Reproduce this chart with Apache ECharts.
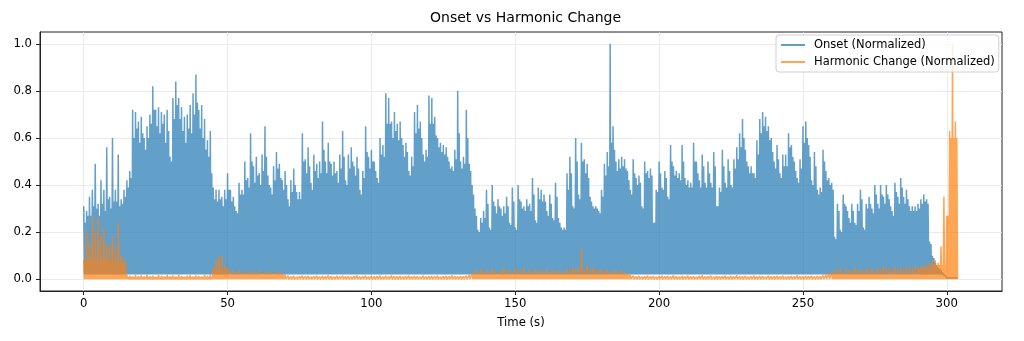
<!DOCTYPE html>
<html>
<head>
<meta charset="utf-8">
<script src="https://cdn.jsdelivr.net/npm/echarts@6.0.0/dist/echarts.min.js"></script>
<style>
html,body{margin:0;padding:0;background:#fff;}
#chart{width:1024px;height:341px;}
</style>
</head>
<body>
<div id="chart"></div>
<script>
// ---- data ----
// Onset envelope: one spike top per second, t = 0 .. 303 s
const onsetPeaks = [
0.31,0.29,0.35,0.38,0.49,0.32,0.42,0.38,0.56,0.35,
0.60,0.38,0.53,0.34,0.38,0.42,0.46,0.72,0.71,0.67,
0.69,0.60,0.65,0.70,0.82,0.72,0.73,0.71,0.70,0.72,
0.52,0.77,0.84,0.77,0.73,0.69,0.70,0.74,0.79,0.87,
0.72,0.74,0.68,0.59,0.63,0.39,0.38,0.38,0.35,0.38,
0.45,0.38,0.35,0.29,0.41,0.38,0.50,0.43,0.62,0.48,
0.52,0.45,0.53,0.65,0.44,0.39,0.48,0.54,0.49,0.42,
0.46,0.34,0.42,0.47,0.37,0.37,0.62,0.51,0.56,0.41,
0.53,0.49,0.50,0.67,0.50,0.58,0.49,0.50,0.46,0.53,
0.63,0.42,0.53,0.56,0.48,0.52,0.38,0.46,0.65,0.52,
0.55,0.50,0.43,0.60,0.57,0.79,0.77,0.67,0.71,0.66,
0.67,0.57,0.58,0.46,0.52,0.71,0.74,0.67,0.53,0.55,
0.78,0.77,0.69,0.60,0.58,0.57,0.56,0.50,0.48,0.55,
0.80,0.50,0.52,0.72,0.49,0.40,0.30,0.21,0.26,0.29,
0.38,0.22,0.40,0.31,0.34,0.30,0.31,0.35,0.24,0.39,
0.22,0.40,0.33,0.31,0.34,0.32,0.43,0.25,0.39,0.38,
0.36,0.29,0.36,0.26,0.41,0.26,0.22,0.22,0.45,0.52,
0.31,0.60,0.36,0.58,0.51,0.49,0.35,0.31,0.31,0.29,
0.38,0.49,0.54,1.00,0.65,0.50,0.51,0.52,0.51,0.46,
0.38,0.51,0.43,0.44,0.31,0.50,0.46,0.47,0.24,0.38,
0.50,0.39,0.46,0.35,0.57,0.48,0.46,0.45,0.57,0.43,
0.42,0.41,0.58,0.50,0.42,0.53,0.41,0.50,0.41,0.54,
0.31,0.39,0.55,0.41,0.51,0.40,0.51,0.56,0.62,0.68,
0.55,0.48,0.48,0.45,0.59,0.68,0.71,0.69,0.65,0.60,
0.50,0.57,0.45,0.53,0.53,0.62,0.57,0.50,0.43,0.51,
0.65,0.67,0.57,0.42,0.54,0.38,0.39,0.55,0.46,0.43,
0.41,0.18,0.32,0.21,0.36,0.31,0.26,0.32,0.24,0.32,
0.38,0.22,0.32,0.35,0.30,0.40,0.32,0.40,0.35,0.40,
0.34,0.29,0.41,0.35,0.43,0.35,0.38,0.31,0.31,0.31,
0.32,0.34,0.36,0.34,0.16,0.10,0.07,0.05,0.04,0.02,
0.005,0.005,0.005,0.005
];
// Onset in-between level per second, t = 0.5 .. 303.5 s
const onsetMids = [
0.24,0.27,0.27,0.31,0.30,0.27,0.32,0.29,0.34,0.30,
0.33,0.33,0.31,0.32,0.35,0.39,0.43,0.60,0.64,0.58,
0.62,0.55,0.60,0.66,0.72,0.65,0.62,0.66,0.58,0.63,
0.50,0.68,0.74,0.68,0.63,0.58,0.64,0.62,0.70,0.75,
0.64,0.60,0.55,0.52,0.45,0.34,0.33,0.34,0.31,0.34,
0.38,0.33,0.31,0.28,0.36,0.36,0.42,0.39,0.50,0.41,
0.44,0.40,0.46,0.52,0.40,0.36,0.42,0.47,0.43,0.38,
0.40,0.31,0.37,0.40,0.34,0.34,0.50,0.45,0.48,0.38,
0.46,0.43,0.45,0.55,0.45,0.50,0.44,0.45,0.41,0.47,
0.52,0.40,0.47,0.50,0.44,0.47,0.36,0.43,0.54,0.47,
0.50,0.46,0.41,0.53,0.52,0.66,0.66,0.60,0.63,0.59,
0.60,0.52,0.54,0.44,0.48,0.62,0.64,0.60,0.50,0.52,
0.66,0.66,0.61,0.56,0.54,0.53,0.52,0.47,0.46,0.51,
0.62,0.47,0.49,0.60,0.46,0.36,0.27,0.20,0.24,0.26,
0.32,0.21,0.33,0.28,0.31,0.27,0.28,0.31,0.23,0.33,
0.21,0.34,0.30,0.29,0.31,0.29,0.36,0.24,0.34,0.33,
0.33,0.27,0.32,0.25,0.35,0.24,0.21,0.21,0.38,0.45,
0.30,0.50,0.34,0.50,0.45,0.43,0.33,0.30,0.30,0.28,
0.35,0.44,0.48,0.58,0.55,0.46,0.47,0.48,0.47,0.42,
0.36,0.45,0.40,0.41,0.30,0.45,0.43,0.44,0.24,0.37,
0.45,0.38,0.43,0.34,0.50,0.44,0.43,0.42,0.50,0.40,
0.39,0.39,0.50,0.45,0.39,0.48,0.39,0.45,0.39,0.48,
0.31,0.37,0.48,0.39,0.46,0.39,0.47,0.51,0.56,0.60,
0.50,0.45,0.45,0.43,0.53,0.62,0.65,0.63,0.59,0.54,
0.47,0.51,0.43,0.48,0.48,0.56,0.52,0.46,0.41,0.47,
0.58,0.60,0.52,0.40,0.48,0.36,0.37,0.50,0.42,0.40,
0.38,0.17,0.29,0.20,0.32,0.29,0.24,0.29,0.23,0.29,
0.34,0.21,0.30,0.32,0.28,0.36,0.30,0.36,0.32,0.36,
0.31,0.27,0.37,0.32,0.39,0.32,0.34,0.29,0.29,0.29,
0.30,0.32,0.33,0.32,0.15,0.09,0.06,0.045,0.03,0.015,
0.005,0.005,0.005,0.005
];
const onsetFloor = 0.02;

// Harmonic change: one spike top per second, t = 0 .. 303 s
const harmonicPeaks = [
0.08,0.20,0.15,0.27,0.20,0.26,0.18,0.22,0.15,0.15,
0.18,0.14,0.24,0.10,0.09,0.02,0.015,0.012,0.018,0.014,
0.016,0.012,0.02,0.013,0.015,0.011,0.017,0.014,0.012,0.018,
0.013,0.016,0.012,0.019,0.014,0.011,0.015,0.017,0.012,0.016,
0.014,0.012,0.018,0.015,0.02,0.05,0.08,0.10,0.10,0.06,
0.05,0.04,0.035,0.03,0.04,0.032,0.028,0.036,0.03,0.034,
0.03,0.038,0.027,0.033,0.03,0.035,0.028,0.032,0.03,0.026,
0.02,0.015,0.012,0.014,0.011,0.013,0.015,0.012,0.014,0.011,
0.013,0.015,0.012,0.014,0.012,0.016,0.013,0.011,0.014,0.012,
0.015,0.012,0.013,0.011,0.014,0.016,0.012,0.013,0.015,0.011,
0.014,0.012,0.013,0.015,0.011,0.014,0.012,0.016,0.013,0.012,
0.014,0.011,0.013,0.015,0.012,0.014,0.013,0.011,0.015,0.012,
0.013,0.014,0.012,0.015,0.011,0.013,0.014,0.012,0.016,0.013,
0.012,0.014,0.013,0.015,0.018,0.025,0.04,0.03,0.045,0.035,
0.04,0.03,0.045,0.035,0.03,0.04,0.05,0.035,0.04,0.03,
0.045,0.035,0.04,0.05,0.03,0.04,0.035,0.045,0.03,0.04,
0.035,0.045,0.03,0.04,0.035,0.04,0.03,0.035,0.045,0.04,
0.05,0.045,0.05,0.13,0.04,0.06,0.045,0.05,0.04,0.045,
0.04,0.035,0.045,0.03,0.04,0.035,0.03,0.04,0.03,0.025,
0.02,0.015,0.012,0.014,0.011,0.013,0.015,0.012,0.014,0.011,
0.013,0.015,0.012,0.014,0.012,0.016,0.013,0.011,0.014,0.012,
0.015,0.012,0.013,0.011,0.014,0.016,0.012,0.013,0.015,0.011,
0.014,0.012,0.013,0.015,0.011,0.014,0.012,0.016,0.013,0.012,
0.014,0.011,0.013,0.015,0.012,0.014,0.013,0.011,0.015,0.012,
0.013,0.014,0.012,0.015,0.011,0.013,0.014,0.012,0.016,0.013,
0.012,0.014,0.013,0.015,0.012,0.014,0.013,0.016,0.02,0.025,
0.03,0.04,0.035,0.05,0.03,0.045,0.04,0.035,0.05,0.04,
0.045,0.035,0.05,0.04,0.045,0.035,0.05,0.04,0.055,0.045,
0.05,0.04,0.055,0.045,0.05,0.04,0.055,0.05,0.045,0.055,
0.05,0.055,0.06,0.06,0.07,0.08,0.08,0.07,0.14,0.35,
0.27,0.63,1.00,0.67
];
// Harmonic change lower level, one value per 5 s block
const harmonicBody = [
0.08,0.08,0.07,0.01,0.01,0.01,0.01,0.01,0.01,0.04,
0.02,0.02,0.02,0.02,0.008,0.008,0.008,0.008,0.008,0.008,
0.008,0.008,0.008,0.008,0.008,0.008,0.008,0.02,0.02,0.02,
0.02,0.02,0.02,0.02,0.02,0.02,0.02,0.02,0.008,0.008,
0.008,0.008,0.008,0.008,0.008,0.008,0.008,0.008,0.008,0.008,
0.008,0.008,0.02,0.02,0.02,0.02,0.02,0.02,0.045,0.06,
0.6
];
const harmonicFloor = 0.0;

const xTicks = [0, 50, 100, 150, 200, 250, 300];
const yTicks = [0, 0.2, 0.4, 0.6, 0.8, 1.0];

// Each second: spike top, floor, in-between level, floor (values only from the arrays above)
function buildTrace(peaks, midAt, floor) {
  const pts = [];
  peaks.forEach(function (p, i) {
    const m = midAt(i);
    const f = Math.min(floor, p, m);
    [p, f, m, f].forEach(function (v, k) { pts.push([i + k / 4, v]); });
  });
  return pts;
}
const onsetTrace = buildTrace(onsetPeaks, function (i) { return onsetMids[i]; }, onsetFloor);
const harmonicTrace = buildTrace(harmonicPeaks,
  function (i) { return Math.min(harmonicBody[Math.floor(i / 5)], harmonicPeaks[i]); }, harmonicFloor);

const FONT = 'DejaVu Sans';
const chart = echarts.init(document.getElementById('chart'), null, {renderer: 'canvas'});
chart.setOption({
  animation: false,
  backgroundColor: '#fff',
  title: {
    text: 'Onset vs Harmonic Change',
    left: 425, top: 6,
    textStyle: {fontFamily: FONT, fontSize: 14, fontWeight: 'normal', color: '#000'}
  },
  grid: {left: 40, right: 22, top: 32, bottom: 50, show: true, borderColor: '#222', borderWidth: 1},
  legend: {
    orient: 'vertical', left: 776, top: 35,
    padding: [4, 4, 4, 5], itemGap: 5, itemWidth: 24, itemHeight: 2,
    icon: 'rect',
    backgroundColor: 'rgba(255,255,255,0.8)', borderColor: '#d0d0d0', borderWidth: 1, borderRadius: 3,
    textStyle: {fontFamily: FONT, fontSize: 11.5, color: '#000', padding: [0, 0, 0, 4]},
    data: [
      {name: 'Onset (Normalized)', itemStyle: {color: 'rgba(31,119,180,0.7)'}},
      {name: 'Harmonic Change (Normalized)', itemStyle: {color: 'rgba(255,127,14,0.7)'}}
    ]
  },
  xAxis: {
    type: 'value', min: -15.2, max: 319.2,
    name: 'Time (s)', nameLocation: 'middle', nameGap: 26,
    nameTextStyle: {fontFamily: FONT, fontSize: 11.7, color: '#000'},
    axisLine: {show: true, onZero: false, lineStyle: {color: '#222', width: 1}},
    axisTick: {show: true, customValues: xTicks, length: 4, lineStyle: {color: '#222'}},
    axisLabel: {customValues: xTicks, fontFamily: FONT, fontSize: 11.7, color: '#000', margin: 7},
    splitLine: {show: true, lineStyle: {color: '#e6e6e6', width: 0.8}}
  },
  yAxis: {
    type: 'value', min: -0.05, max: 1.05,
    axisLine: {show: true, onZero: false, lineStyle: {color: '#222', width: 1}},
    axisTick: {show: true, customValues: yTicks, length: 4, lineStyle: {color: '#222'}},
    axisLabel: {customValues: yTicks, fontFamily: FONT, fontSize: 11.7, color: '#000', margin: 8,
      formatter: function (v) { return v.toFixed(1); }},
    splitLine: {show: true, lineStyle: {color: '#e6e6e6', width: 0.8}}
  },
  series: [
    {
      name: 'Onset (Normalized)', type: 'line', data: onsetTrace,
      showSymbol: false, symbol: 'none', silent: true, z: 2,
      lineStyle: {color: '#1f77b4', width: 1.5, opacity: 0.7},
      itemStyle: {color: '#1f77b4'}
    },
    {
      name: 'Harmonic Change (Normalized)', type: 'line', data: harmonicTrace,
      showSymbol: false, symbol: 'none', silent: true, z: 3,
      lineStyle: {color: '#ff7f0e', width: 1.5, opacity: 0.7},
      itemStyle: {color: '#ff7f0e'}
    }
  ]
});
</script>
</body>
</html>
